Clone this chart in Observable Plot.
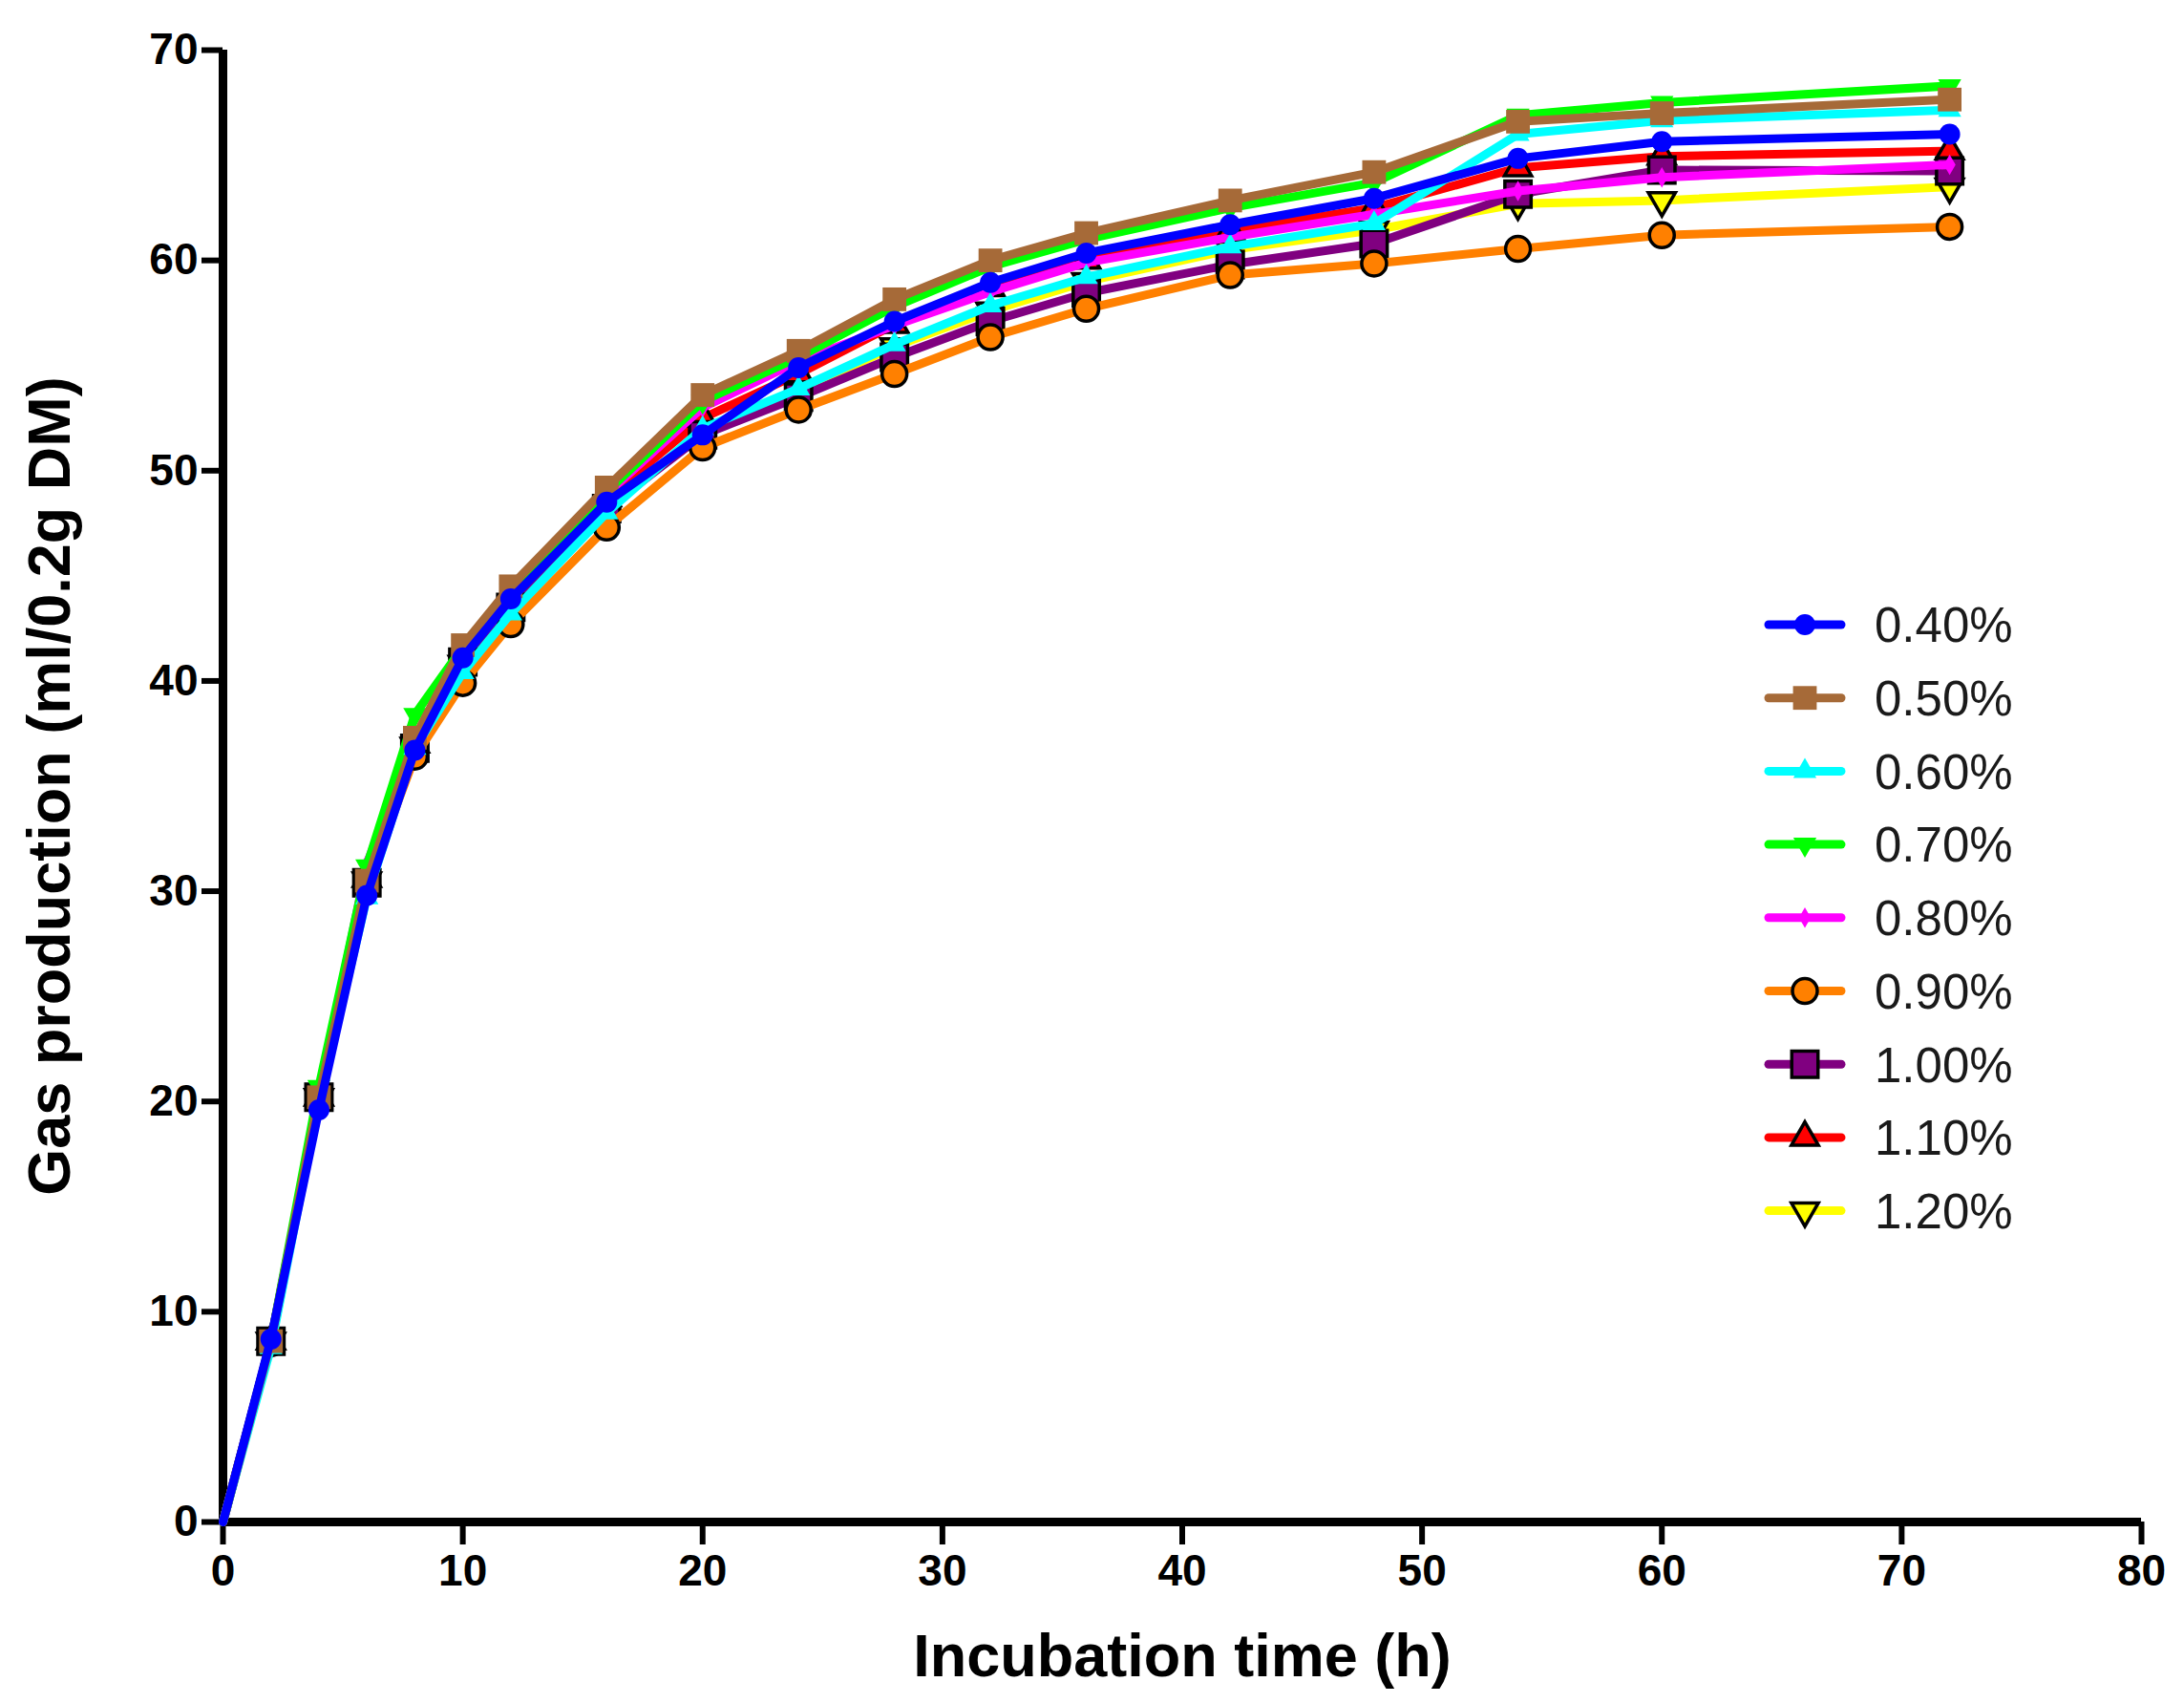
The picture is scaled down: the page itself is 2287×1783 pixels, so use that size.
<!DOCTYPE html>
<html>
<head>
<meta charset="utf-8">
<script src="https://cdn.jsdelivr.net/npm/d3@7"></script>
<script src="https://cdn.jsdelivr.net/npm/@observablehq/plot@0.6"></script>
<style>
  html, body { margin: 0; padding: 0; background: #fff; }
  #wrap { position: relative; width: 2287px; height: 1783px; }
  #wrap svg.legend { position: absolute; left: 0; top: 0; pointer-events: none; }
</style>
</head>
<body>
<div id="wrap"></div>
<script>
// ---------- data ----------
const hours = [0, 2, 4, 6, 8, 10, 12, 16, 20, 24, 28, 32, 36, 42, 48, 54, 60, 72];

const seriesLabels = ["0.40%", "0.50%", "0.60%", "0.70%", "0.80%", "0.90%", "1.00%", "1.10%", "1.20%"];
const seriesColors = ["#0000ff", "#a66a38", "#00ffff", "#00ff00", "#ff00ff", "#ff8000", "#800080", "#ff0000", "#ffff00"];
const seriesSymbols = ["circle", "square", "triangle", "triangle", "diamond", "circle", "square", "triangle", "triangle"];
const symbolRotate = [0, 0, 0, 180, 0, 0, 0, 0, 180];
const symbolRadius = [11, 14, 9, 9, 6.5, 13, 15.5, 10.5, 10.5];
const symbolOutline = [null, null, null, null, null, "#000", "#000", "#000", "#000"];

const gas040 = [0, 8.7, 19.6, 29.8, 36.7, 41.1, 43.9, 48.5, 51.7, 54.9, 57.1, 58.95, 60.35, 61.7, 62.95, 64.85, 65.65, 66.0];
const gas050 = [0, 8.6, 20.2, 30.5, 37.3, 41.7, 44.5, 49.2, 53.6, 55.7, 58.15, 60.0, 61.3, 62.85, 64.2, 66.6, 67.0, 67.65];
const gas060 = [0, 8.3, 20.0, 29.7, 36.8, 40.4, 43.2, 48.0, 52.0, 53.9, 56.0, 57.85, 59.2, 60.65, 61.75, 66.0, 66.65, 67.15];
const gas070 = [0, 8.6, 20.7, 31.2, 38.4, 41.6, 44.3, 49.0, 53.3, 55.4, 57.8, 59.7, 61.0, 62.5, 63.7, 66.9, 67.5, 68.3];
const gas080 = [0, 8.6, 20.3, 31.3, 37.2, 41.4, 44.2, 48.9, 53.0, 55.2, 56.9, 58.5, 59.9, 61.1, 62.2, 63.3, 63.95, 64.55];
const gas090 = [0, 8.5, 20.1, 30.3, 36.4, 39.9, 42.7, 47.3, 51.1, 52.9, 54.6, 56.35, 57.7, 59.3, 59.85, 60.55, 61.2, 61.6];
const gas100 = [0, 8.6, 20.2, 30.4, 36.8, 40.9, 43.5, 48.2, 51.7, 53.5, 55.4, 57.1, 58.45, 59.8, 60.8, 63.15, 64.3, 64.25];
const gas110 = [0, 8.6, 20.2, 30.6, 37.0, 41.2, 44.0, 48.7, 52.5, 54.6, 56.95, 58.7, 60.0, 61.4, 62.5, 64.4, 64.95, 65.2];
const gas120 = [0, 8.6, 20.2, 30.5, 36.9, 40.8, 43.4, 48.1, 51.9, 53.8, 55.9, 57.6, 59.0, 60.5, 61.45, 62.7, 62.85, 63.5];

const seriesValues = [gas040, gas050, gas060, gas070, gas080, gas090, gas100, gas110, gas120];

const xTicks = [0, 10, 20, 30, 40, 50, 60, 70, 80];
const yTicks = [0, 10, 20, 30, 40, 50, 60, 70];
const xTitle = "Incubation time (h)";
const yTitle = "Gas production (ml/0.2g DM)";

// ---------- build table ----------
const rows = seriesValues.flatMap((vals, i) =>
  vals.map((v, j) => ({ hour: hours[j], gas: v, group: seriesLabels[i] }))
);

// draw last series first so 0.40% ends on top
const seriesMarks = d3.range(seriesLabels.length - 1, -1, -1).flatMap(i => {
  const data = rows.filter(d => d.group === seriesLabels[i]);
  return [
    Plot.line(data, { x: "hour", y: "gas", stroke: seriesColors[i], strokeWidth: 9, strokeLinejoin: "round" }),
    Plot.dot(data.filter(d => d.hour > 0), {
      x: "hour", y: "gas",
      symbol: seriesSymbols[i],
      r: symbolRadius[i],
      rotate: symbolRotate[i],
      fill: seriesColors[i],
      stroke: symbolOutline[i] || seriesColors[i],
      strokeWidth: symbolOutline[i] ? 3.5 : 0
    })
  ];
});

const FONT = "'Liberation Sans', Arial, Helvetica, sans-serif";

const chart = Plot.plot({
  width: 2287,
  height: 1783,
  marginLeft: 233,
  marginRight: 45,
  marginTop: 52,
  marginBottom: 190,
  x: { domain: [0, 80] },
  y: { domain: [0, 70] },
  style: { fontFamily: FONT, background: "#fff", color: "#000" },
  marks: [
    Plot.axisX({ ticks: xTicks, tickSize: 24, tickPadding: 10, strokeWidth: 6, fontSize: 46, fontWeight: "bold", label: null, tickFormat: d3.format("d") }),
    Plot.axisY({ ticks: yTicks, tickSize: 22, tickPadding: 4, strokeWidth: 6, fontSize: 46, fontWeight: "bold", label: null, tickFormat: d3.format("d") }),
    Plot.ruleX([0], { strokeWidth: 9, stroke: "#000" }),
    Plot.ruleY([0], { strokeWidth: 9, stroke: "#000" }),
    ...seriesMarks,
    Plot.text([xTitle], { text: d => d, frameAnchor: "bottom", textAnchor: "middle", dy: 161, fontSize: 63, fontWeight: "bold", fill: "#000" }),
    Plot.text([yTitle], { text: d => d, frameAnchor: "left", textAnchor: "middle", dx: -181, rotate: -90, fontSize: 63, fontWeight: "bold", fill: "#000" })
  ]
});

const wrap = document.getElementById("wrap");
wrap.appendChild(chart);

// ---------- legend ----------
const legendLeft = 1852, legendLineEnd = 1928, legendTextX = 1963;
const legendTop = 654, legendStep = 76.7;
const d3Symbols = { circle: d3.symbolCircle, square: d3.symbolSquare, triangle: d3.symbolTriangle, diamond: d3.symbolDiamond };

const legend = d3.create("svg")
  .attr("class", "legend")
  .attr("width", 2287)
  .attr("height", 1783);

seriesLabels.forEach((lab, i) => {
  const cy = legendTop + i * legendStep;
  const g = legend.append("g");
  g.append("line")
    .attr("x1", legendLeft).attr("x2", legendLineEnd)
    .attr("y1", cy).attr("y2", cy)
    .attr("stroke", seriesColors[i]).attr("stroke-width", 9).attr("stroke-linecap", "round");
  const cx = (legendLeft + legendLineEnd) / 2;
  g.append("path")
    .attr("d", d3.symbol(d3Symbols[seriesSymbols[i]], Math.PI * symbolRadius[i] * symbolRadius[i])())
    .attr("transform", `translate(${cx},${cy}) rotate(${symbolRotate[i]})`)
    .attr("fill", seriesColors[i])
    .attr("stroke", symbolOutline[i] || "none")
    .attr("stroke-width", symbolOutline[i] ? 3.5 : 0);
  g.append("text")
    .attr("x", legendTextX).attr("y", cy)
    .attr("dy", "0.36em")
    .attr("font-family", FONT)
    .attr("font-size", 51)
    .attr("fill", "#1a1a1a")
    .text(lab);
});

wrap.appendChild(legend.node());
</script>
</body>
</html>
